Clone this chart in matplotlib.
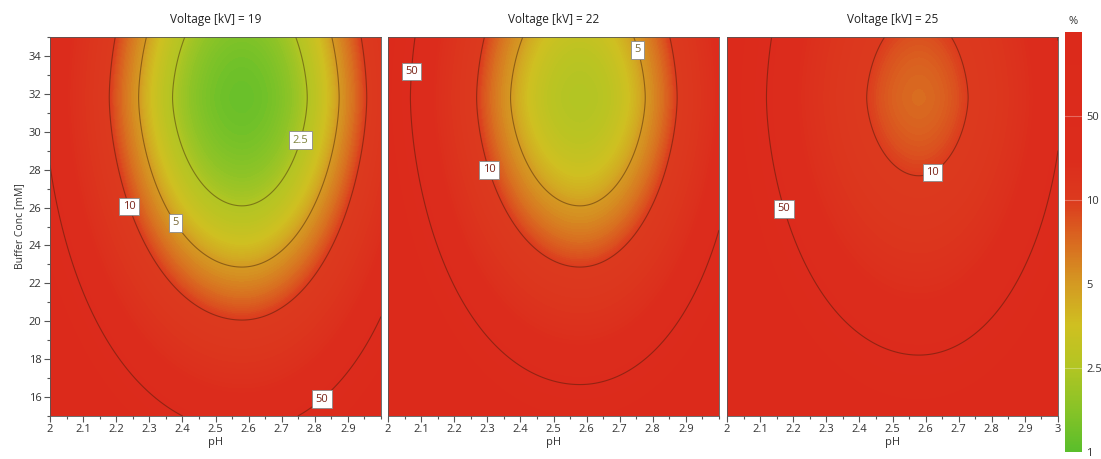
import numpy as np
import matplotlib
matplotlib.use('Agg')
import matplotlib.pyplot as plt
from matplotlib.colors import LinearSegmentedColormap, FuncNorm
from matplotlib.cm import ScalarMappable
from matplotlib.ticker import MultipleLocator

plt.rcParams['font.family'] = ['Open Sans', 'DejaVu Sans']

# response surface (one panel per voltage)
voltages = [19, 22, 25]
min_log = [0.106, 0.407, 0.872]   # log10 of the lowest % in each panel
spread = [1.8, 1.8, 1.345]
ph_opt = 2.58
conc_opt = 31.8
ph_width = [0.50, 0.47]      # left / right of the optimum
conc_width = [15.8, 17.0]    # below / above the optimum
conc_power = 1.72
conc_far = 25.7

line_levels = [2.5, 5, 10, 50]
color_levels = [1, 2.5, 5, 10, 50, 100]
color_ticks = ['1', '2.5', '5', '10', '50']

# where the contour labels sit
label_spots = [
    [(2.767, 29.5), (2.23, 26.0), (2.366, 25.05), (2.816, 16.0)],
    [(2.057, 33.2), (2.752, 34.3), (2.29, 27.9)],
    [(2.619, 27.9), (2.166, 25.9)],
]
label_colors = {'2.5': '#7f843c', '5': '#7a6a38', '10': '#7a2418', '50': '#7a2418'}


def response(ph, conc, k):
    u = ph - ph_opt
    w = conc - conc_opt
    su = np.where(u < 0, ph_width[0], ph_width[1])
    sw = np.where(w < 0, conc_width[0], conc_width[1])
    q = (u / su) ** 2 + (np.abs(w) / sw) ** conc_power + (w / conc_far) ** 4
    return 10 ** (min_log[k] + spread[k] * np.log1p(q))


idx = np.arange(len(color_levels))
norm = FuncNorm((lambda x: np.interp(x, color_levels, idx),
                 lambda y: np.interp(y, idx, color_levels)),
                vmin=color_levels[0], vmax=color_levels[-1])
cmap = LinearSegmentedColormap.from_list('res', [
    (0.0, '#5abe2b'), (0.1, '#88c327'), (0.2, '#b2c523'), (0.3, '#cfc021'),
    (0.4, '#d49a22'), (0.5, '#d96a20'), (0.6, '#dc3a1e'), (0.7, '#dc2c1c'),
    (1.0, '#dc2a1b')])
fill_levels = np.interp(np.linspace(0, len(color_levels) - 1, 121), idx, color_levels)

ph = np.linspace(2, 3, 301)
conc = np.linspace(15, 35, 301)
PH, C = np.meshgrid(ph, conc)

fig = plt.figure(figsize=(11.01, 4.59), dpi=100)
lefts = [50, 388, 727]

for k, v in enumerate(voltages):
    ax = fig.add_axes([lefts[k] / 1101, 43 / 459, 331 / 1101, 379 / 459])
    Z = response(PH, C, k)
    ax.contourf(PH, C, np.clip(Z, 1, 100), levels=fill_levels, cmap=cmap, norm=norm)
    cs = ax.contour(PH, C, Z, levels=line_levels, colors='#3a1a08',
                    linewidths=0.8, alpha=0.45)
    texts = ax.clabel(cs, fmt={2.5: '2.5', 5: '5', 10: '10', 50: '50'},
                      manual=label_spots[k], inline=False, fontsize=8)
    for t in texts:
        t.set_rotation(0)
        t.set_color(label_colors.get(t.get_text(), '#7a2418'))
        t.set_bbox(dict(boxstyle='square,pad=0.3', fc='white', ec='#8a8a8a', lw=0.6))

    ax.set_xlim(2, 3)
    ax.set_ylim(15, 35)
    xt = np.round(np.arange(2, 3.01 if k == 2 else 2.95, 0.1), 1)
    ax.set_xticks(xt)
    ax.set_xticklabels(['%g' % x for x in xt])
    ax.xaxis.set_minor_locator(MultipleLocator(0.05))
    ax.tick_params(which='both', direction='out', color='#555555', width=0.8,
                   labelsize=8, labelcolor='#333333', pad=2)
    ax.tick_params(which='major', length=4)
    ax.tick_params(which='minor', length=2.5)
    ax.set_xlabel('pH', fontsize=8, labelpad=1, color='#333333')
    ax.set_title(f'Voltage [kV] = {v}', fontsize=8.5, pad=10, color='#222222')
    if k == 0:
        ax.set_yticks(np.arange(16, 35, 2))
        ax.yaxis.set_minor_locator(MultipleLocator(1))
        ax.set_ylabel('Buffer Conc [mM]', fontsize=7.5, labelpad=3, color='#333333')
    else:
        ax.tick_params(axis='y', which='both', left=False, labelleft=False)
    for s in ax.spines.values():
        s.set_color('#555555')
        s.set_linewidth(0.6)

cax = fig.add_axes([1065 / 1101, 1 - 452 / 459, 17 / 1101, 420 / 459])
sm = ScalarMappable(norm=norm, cmap=cmap)
cb = fig.colorbar(sm, cax=cax)
cb.set_ticks(color_levels[:-1])
cb.set_ticklabels(color_ticks)
cb.outline.set_visible(False)
cax.tick_params(length=0, labelsize=8, pad=3, labelcolor='#333333')
for lv in [2.5, 10, 50]:
    cax.axhline(lv, color='white', alpha=0.3, lw=0.8)
cax.set_title('%', fontsize=8, pad=6, color='#333333')

fig.savefig('out.png', dpi=100)
